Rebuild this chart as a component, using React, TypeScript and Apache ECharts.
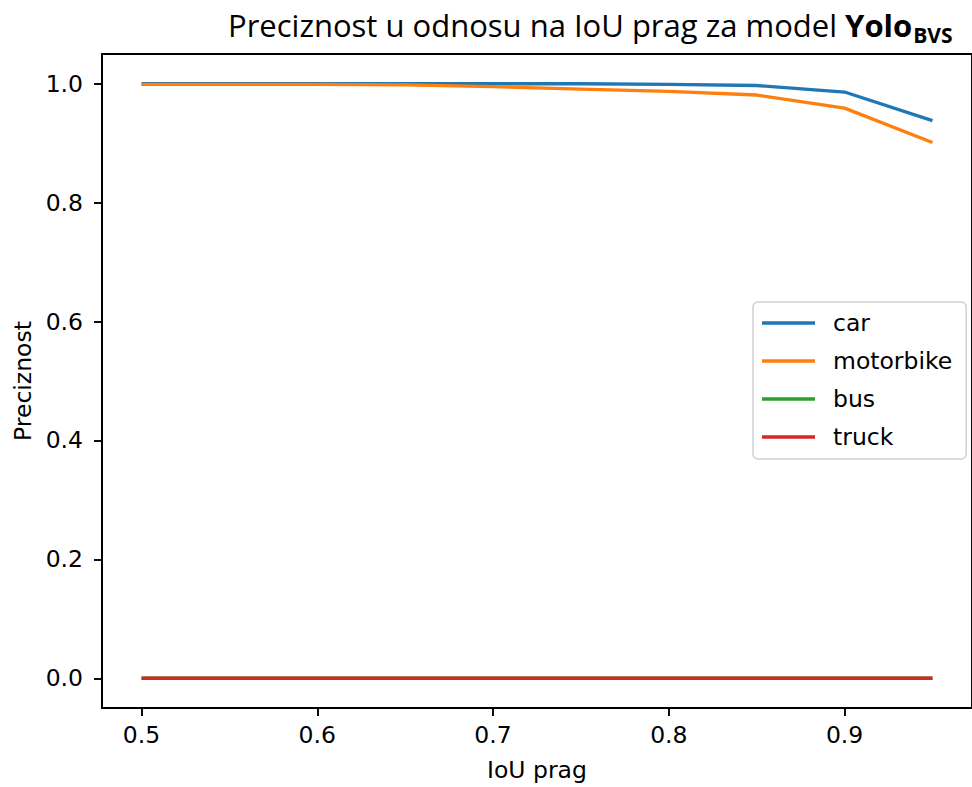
import React, { useEffect, useRef } from "react";
import * as echarts from "echarts";

const iouThresholds = [0.5, 0.55, 0.6, 0.65, 0.7, 0.75, 0.8, 0.85, 0.9, 0.95];
const carPrecision = [1.0, 1.0, 1.0, 1.0, 1.0, 1.0, 0.999, 0.997, 0.986, 0.938];
const motorbikePrecision = [0.999, 0.999, 0.999, 0.998, 0.995, 0.991, 0.987, 0.981, 0.959, 0.901];
const busPrecision = [0, 0, 0, 0, 0, 0, 0, 0, 0, 0];
const truckPrecision = [0, 0, 0, 0, 0, 0, 0, 0, 0, 0];
const xTicks = [0.5, 0.6, 0.7, 0.8, 0.9];
const yTicks = [0.0, 0.2, 0.4, 0.6, 0.8, 1.0];

const seriesDefs = [
  { name: "car", values: carPrecision, color: "#1f77b4" },
  { name: "motorbike", values: motorbikePrecision, color: "#ff7f0e" },
  { name: "bus", values: busPrecision, color: "#2ca02c" },
  { name: "truck", values: truckPrecision, color: "#d62728" },
];

const FONT = "DejaVu Sans";
const TITLE_FONT = "Open Sans";
const FS = 23.5;

export default function App() {
  const ref = useRef<HTMLDivElement>(null);
  useEffect(() => {
    if (!ref.current) return;
    const chart = echarts.init(ref.current, undefined, { renderer: "svg" });
    chart.setOption({
      animation: false,
      backgroundColor: "#ffffff",
      textStyle: { fontFamily: FONT },
      title: {
        left: 223,
        top: 0,
        text: "{n|Preciznost u odnosu na IoU prag za model }{b|Yolo}{s|BVS}",
        textStyle: {
          fontWeight: "normal",
          rich: {
            n: { fontFamily: TITLE_FONT, fontSize: 31, fontWeight: "normal", color: "#000", lineHeight: 40, verticalAlign: "middle" },
            b: { fontFamily: TITLE_FONT, fontSize: 31, fontWeight: "bold", color: "#000", lineHeight: 40, verticalAlign: "middle" },
            s: { fontFamily: TITLE_FONT, fontSize: 21, fontWeight: "bold", color: "#000", lineHeight: 10, verticalAlign: "bottom", padding: [0, 0, 0, 1] },
          },
        },
      },
      grid: {
        left: 102,
        top: 54,
        width: 877,
        height: 655,
        show: true,
        borderColor: "#000",
        borderWidth: 1.9,
        backgroundColor: "transparent",
      },
      legend: {
        orient: "vertical",
        left: 753,
        top: 302,
        padding: [9, 14, 10, 9],
        itemWidth: 53,
        itemHeight: 3.5,
        itemGap: 14,
        icon: "rect",
        borderColor: "#d0d0d0",
        borderWidth: 1.5,
        borderRadius: 5,
        backgroundColor: "rgba(255,255,255,0.8)",
        textStyle: { fontFamily: FONT, fontSize: FS, color: "#000", lineHeight: 23.5, padding: [0, 0, 0, 13] },
        data: seriesDefs.map((s) => s.name),
      },
      xAxis: {
        type: "value",
        min: 0.4775,
        max: 0.9725,
        name: "IoU prag",
        nameLocation: "middle",
        nameGap: 50,
        nameTextStyle: { fontFamily: FONT, fontSize: FS, color: "#000" },
        splitLine: { show: false },
        axisLine: { show: true, onZero: false, lineStyle: { color: "#000", width: 1.9 } },
        axisTick: { show: true, inside: false, length: 8, customValues: xTicks, lineStyle: { color: "#000", width: 1.9 } },
        axisLabel: {
          customValues: xTicks,
          margin: 15,
          fontFamily: FONT,
          fontSize: FS,
          color: "#000",
          formatter: (v: number) => v.toFixed(1),
        },
      },
      yAxis: {
        type: "value",
        min: -0.05,
        max: 1.05,
        name: "Preciznost",
        nameLocation: "middle",
        nameGap: 67,
        nameRotate: 90,
        nameTextStyle: { fontFamily: FONT, fontSize: FS, color: "#000" },
        splitLine: { show: false },
        axisLine: { show: true, onZero: false, lineStyle: { color: "#000", width: 1.9 } },
        axisTick: { show: true, inside: false, length: 8, customValues: yTicks, lineStyle: { color: "#000", width: 1.9 } },
        axisLabel: {
          customValues: yTicks,
          margin: 19,
          fontFamily: FONT,
          fontSize: FS,
          color: "#000",
          formatter: (v: number) => v.toFixed(1),
        },
      },
      series: seriesDefs.map((s) => ({
        name: s.name,
        type: "line",
        data: iouThresholds.map((x, i) => [x, s.values[i]]),
        showSymbol: false,
        symbol: "none",
        lineStyle: { color: s.color, width: 3.3 },
        itemStyle: { color: s.color },
        clip: false,
      })),
    });
    return () => chart.dispose();
  }, []);
  return (
    <div
      ref={ref}
      style={{ position: "fixed", left: 0, top: 0, width: 972, height: 787 }}
    />
  );
}
